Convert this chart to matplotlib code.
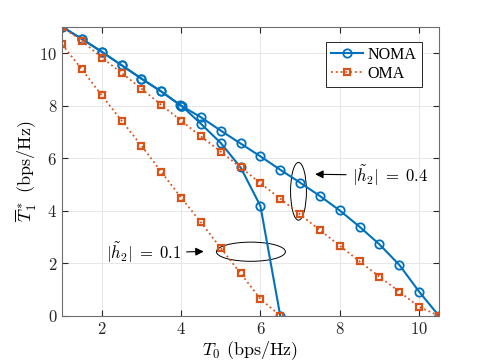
import numpy as np
import matplotlib
matplotlib.use("Agg")
import matplotlib.pyplot as plt
from matplotlib.patches import Ellipse

plt.rcParams['font.family'] = ['cmr10', 'DejaVu Serif']
plt.rcParams['mathtext.fontset'] = 'cm'
plt.rcParams['axes.formatter.use_mathtext'] = True

# NOMA, |h2| = 0.4
x_noma4 = [1, 1.5, 2, 2.5, 3, 3.5, 4, 4.5, 5, 5.5, 6, 6.5, 7, 7.5, 8, 8.5, 9, 9.5, 10, 10.5]
y_noma4 = [11, 10.54, 10.05, 9.54, 9.03, 8.54, 8.0, 7.56, 7.05, 6.56, 6.07, 5.56, 5.07, 4.56, 4.01, 3.39, 2.72, 1.94, 0.92, 0]
# NOMA, |h2| = 0.1
x_noma1 = [1, 1.5, 2, 2.5, 3, 3.5, 3.97, 4, 4.03, 4.5, 5, 5.5, 6, 6.5]
y_noma1 = [11, 10.54, 10.05, 9.54, 9.03, 8.54, 8.03, 8.0, 7.97, 7.31, 6.58, 5.65, 4.18, 0]
# OMA, |h2| = 0.4
x_oma4 = [1, 1.5, 2, 2.5, 3, 3.5, 4, 4.5, 5, 5.5, 6, 6.5, 7, 7.5, 8, 8.5, 9, 9.5, 10, 10.5]
y_oma4 = [11, 10.47, 9.83, 9.25, 8.65, 8.03, 7.43, 6.83, 6.25, 5.65, 5.05, 4.46, 3.86, 3.26, 2.67, 2.07, 1.49, 0.92, 0.34, 0]
# OMA, |h2| = 0.1
x_oma1 = [1, 1.5, 2, 2.5, 3, 3.5, 4, 4.5, 5, 5.5, 6, 6.5]
y_oma1 = [10.33, 9.38, 8.39, 7.43, 6.48, 5.48, 4.5, 3.56, 2.58, 1.62, 0.64, 0]

blue = '#0072BD'
orange = '#D95319'

fig = plt.figure(figsize=(4.85, 3.63), dpi=100)
ax = fig.add_axes([0.128, 0.13, 0.777, 0.796])

noma_kw = dict(color=blue, lw=1.5, marker='o', ms=6, mfc='none', mew=1.3)
oma_kw = dict(color=orange, lw=1.3, ls=':', marker='s', ms=4.5, mfc='none', mew=1.6)

ax.plot(x_noma4, y_noma4, label='NOMA', **noma_kw)
ax.plot(x_noma1, y_noma1, **noma_kw)
ax.plot(x_oma4, y_oma4, label='OMA', **oma_kw)
ax.plot(x_oma1, y_oma1, **oma_kw)

ax.add_patch(Ellipse((6.96, 4.74), 0.4, 2.2, fill=False, ec='k', lw=0.7))
ax.add_patch(Ellipse((5.76, 2.44), 1.74, 0.73, fill=False, ec='k', lw=0.7))

arrow = dict(arrowstyle='-|>', color='k', lw=0.8, mutation_scale=12)
ax.annotate(r'$|\tilde{h}_2|\;=\;0.4$', xy=(7.31, 5.39), xytext=(8.3, 5.35),
            fontsize=12, va='center', ha='left', arrowprops=arrow)
ax.annotate(r'$|\tilde{h}_2|\;=\;0.1$', xy=(4.64, 2.45), xytext=(4.0, 2.4),
            fontsize=12, va='center', ha='right', arrowprops=arrow)

ax.set_xlim(1, 10.5)
ax.set_ylim(0, 11)
ax.set_xticks([2, 4, 6, 8, 10])
ax.set_yticks([0, 2, 4, 6, 8, 10])
ax.grid(True, color='#e3e3e3', lw=0.6)
ax.set_axisbelow(True)
ax.tick_params(direction='in', top=True, right=True, length=4, labelsize=12, colors='#262626')
for s in ax.spines.values():
    s.set_color('#6e6e6e')
    s.set_linewidth(0.8)

ax.set_xlabel(r'$T_0$ (bps/Hz)', fontsize=13, labelpad=2)
ax.set_ylabel(r'$\overline{T}_1^*$ (bps/Hz)', fontsize=13, labelpad=0)

leg = ax.legend(loc='upper right', prop={'family': 'Liberation Serif', 'size': 11.5},
                fancybox=False, edgecolor='#262626', framealpha=1,
                handlelength=2.0, borderpad=0.3, labelspacing=0.2, handletextpad=0.3,
                bbox_to_anchor=(0.975, 0.975))
leg.get_frame().set_linewidth(0.7)

fig.savefig('out.png', dpi=100)
